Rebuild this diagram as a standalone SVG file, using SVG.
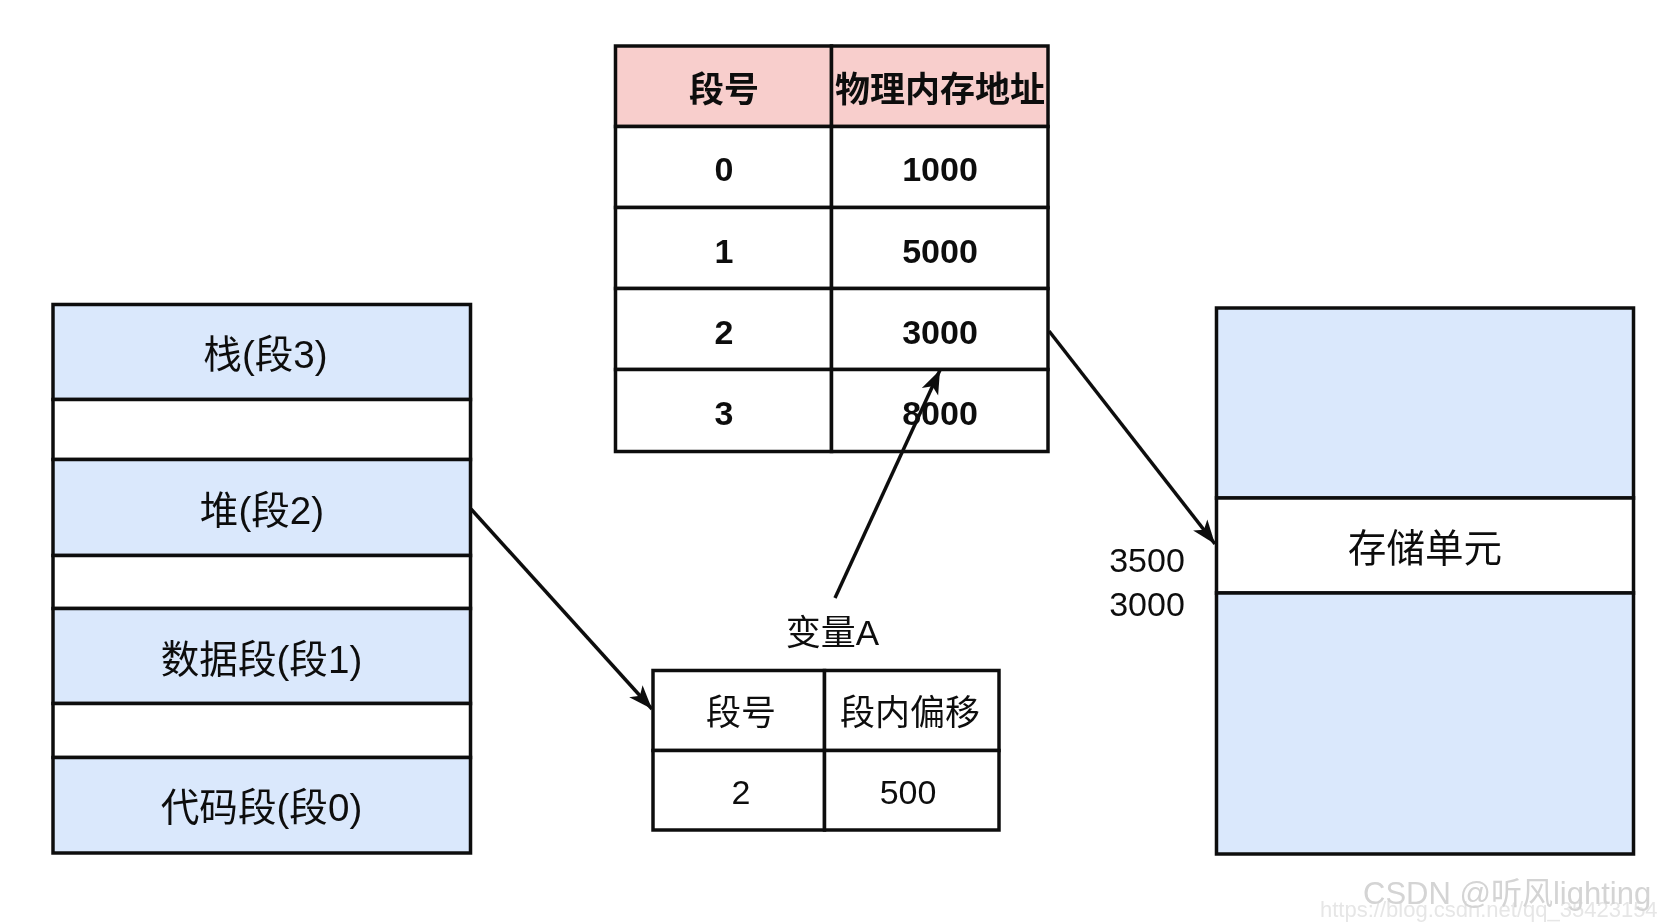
<svg xmlns="http://www.w3.org/2000/svg" width="1657" height="923" viewBox="0 0 1657 923">
<style>
.cell{stroke:#111;stroke-width:3.5;fill:#fff}
.blue{fill:#dae8fc}
.pink{fill:#f8cecc}
text{font-family:"Liberation Sans","Noto Sans CJK SC",sans-serif;font-size:34px;fill:#111;text-anchor:middle}
.b{font-weight:700}
.cj{font-size:35px}
.lg{font-size:38.6px}
.wm1{font-size:31px;fill:#d4d4d4;text-anchor:start}
.wm2{font-size:22px;fill:#e6e6e6;text-anchor:start}
.conn{stroke:#111;stroke-width:3.5;fill:none;marker-end:url(#arrow)}
</style>
<defs>
<marker id="arrow" markerUnits="userSpaceOnUse" markerWidth="26" markerHeight="22" viewBox="0 0 26 22" refX="24" refY="11" orient="auto">
<path d="M0 2 L24 11 L0 20 L6 11 Z" fill="#111"/>
</marker>
<filter id="soft" filterUnits="userSpaceOnUse" x="0" y="0" width="1657" height="923"><feGaussianBlur stdDeviation="0.45"/></filter>
</defs>
<rect width="1657" height="923" fill="#fff"/>
<g filter="url(#soft)">
<g id="watermark">
<text class="wm2" x="1320" y="917">https://blog.csdn.net/qq_35423154</text>
<text class="wm1" x="1363" y="904">CSDN @听风lighting</text>
</g>
<g id="segments">
<g id="seg3"><rect class="cell blue" x="53" y="304.5" width="417.5" height="95"/><text class="lg" x="265.500" y="368">栈(段3)</text></g>
<g id="gap3"><rect class="cell" x="53" y="399.5" width="417.5" height="60"/></g>
<g id="seg2"><rect class="cell blue" x="53" y="459.5" width="417.5" height="96"/><text class="lg" x="262" y="524">堆(段2)</text></g>
<g id="gap2"><rect class="cell" x="53" y="555.5" width="417.5" height="53"/></g>
<g id="seg1"><rect class="cell blue" x="53" y="608.5" width="417.5" height="95"/><text class="lg" x="261.500" y="673">数据段(段1)</text></g>
<g id="gap1"><rect class="cell" x="53" y="703.500" width="417.5" height="54"/></g>
<g id="seg0"><rect class="cell blue" x="53" y="757.5" width="417.5" height="95.5"/><text class="lg" x="261.500" y="821">代码段(段0)</text></g>
</g>
<g id="segment-table">
<g id="st-h1"><rect class="cell pink" x="615.5" y="46" width="216" height="80.5"/><text class="b cj" x="724" y="102">段号</text></g>
<g id="st-h2"><rect class="cell pink" x="831.5" y="46" width="216.5" height="80.5"/><text class="b cj" x="940" y="102">物理内存地址</text></g>
<g id="st-a0"><rect class="cell" x="615.5" y="126.5" width="216" height="81"/><text class="b" x="724" y="181">0</text></g>
<g id="st-b0"><rect class="cell" x="831.5" y="126.5" width="216.5" height="81"/><text class="b" x="940" y="181">1000</text></g>
<g id="st-a1"><rect class="cell" x="615.5" y="207.5" width="216" height="81"/><text class="b" x="724" y="263">1</text></g>
<g id="st-b1"><rect class="cell" x="831.5" y="207.5" width="216.5" height="81"/><text class="b" x="940" y="263">5000</text></g>
<g id="st-a2"><rect class="cell" x="615.5" y="288.5" width="216" height="81"/><text class="b" x="724" y="344">2</text></g>
<g id="st-b2"><rect class="cell" x="831.5" y="288.5" width="216.5" height="81"/><text class="b" x="940" y="344">3000</text></g>
<g id="st-a3"><rect class="cell" x="615.5" y="369.5" width="216" height="82"/><text class="b" x="724" y="425">3</text></g>
<g id="st-b3"><rect class="cell" x="831.5" y="369.5" width="216.5" height="82"/><text class="b" x="940" y="425">8000</text></g>
</g>
<g id="address">
<g id="va-h1"><rect class="cell" x="653" y="670.5" width="171.5" height="80"/><text class="cj" x="741" y="725">段号</text></g>
<g id="va-h2"><rect class="cell" x="824.5" y="670.5" width="174.5" height="80"/><text class="cj" x="910" y="725">段内偏移</text></g>
<g id="va-a"><rect class="cell" x="653" y="750.5" width="171.5" height="79.5"/><text x="741" y="804">2</text></g>
<g id="va-b"><rect class="cell" x="824.5" y="750.5" width="174.5" height="79.5"/><text x="908" y="804">500</text></g>
<text id="var-label" class="cj" x="832.5" y="645">变量A</text>
</g>
<g id="memory">
<g id="mem-top"><rect class="cell blue" x="1216.5" y="308" width="417" height="190"/></g>
<g id="mem-unit"><rect class="cell" x="1216.5" y="498" width="417" height="95"/><text class="lg" x="1425" y="562">存储单元</text></g>
<g id="mem-bottom"><rect class="cell blue" x="1216.5" y="593" width="417" height="261"/></g>
<text id="addr-3500" x="1147" y="572">3500</text>
<text id="addr-3000" x="1147" y="616">3000</text>
</g>
<g id="connectors">
<line class="conn" x1="471" y1="509" x2="652" y2="709"/>
<line class="conn" x1="835" y1="598" x2="940" y2="370"/>
<line class="conn" x1="1049" y1="331" x2="1215" y2="544"/>
</g>
</g>
</svg>
